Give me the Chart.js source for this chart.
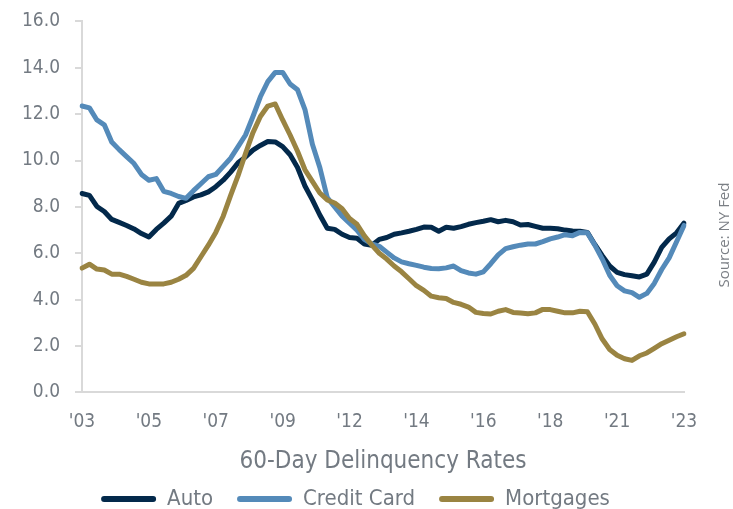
<!DOCTYPE html>
<html>
<head>
<meta charset="utf-8">
<script src="https://cdn.jsdelivr.net/npm/chart.js@4.4.1/dist/chart.umd.min.js"></script>
<style>
  html, body { margin: 0; padding: 0; background: #fff; overflow: hidden; }
  #wrap { position: relative; top: -5px; width: 733px; height: 525px; }
</style>
</head>
<body>
<div id="wrap"><canvas id="myChart"></canvas></div>
<script>
'use strict';

// quarterly, 2003Q1 .. 2023Q2
var quarters = [];
for (var yr = 2003; yr <= 2023; yr++) {
    for (var q = 1; q <= 4; q++) {
        if (yr === 2023 && q > 2) break;
        quarters.push(yr + 'Q' + q);
    }
}
var tickEvery = 9;

var auto = [8.58, 8.5, 8.02, 7.8, 7.46, 7.33, 7.2, 7.05, 6.85, 6.7,
    7.03, 7.3, 7.6, 8.15, 8.28, 8.43, 8.52, 8.65, 8.87, 9.15,
    9.5, 9.9, 10.15, 10.45, 10.65, 10.82, 10.8, 10.6, 10.25, 9.7,
    8.9, 8.3, 7.65, 7.08, 7.03, 6.82, 6.68, 6.65, 6.4, 6.35,
    6.6, 6.68, 6.82, 6.88, 6.95, 7.03, 7.13, 7.12, 6.95, 7.12,
    7.08, 7.15, 7.25, 7.32, 7.38, 7.45, 7.36, 7.42, 7.36, 7.22,
    7.24, 7.16, 7.08, 7.08, 7.06, 7.0, 6.96, 6.95, 6.9, 6.38,
    5.9, 5.45, 5.18, 5.08, 5.03, 4.98, 5.1, 5.62, 6.25, 6.62,
    6.88, 7.3];

var creditCard = [12.35, 12.27, 11.75, 11.54, 10.8, 10.47, 10.17, 9.87, 9.4, 9.15,
    9.22, 8.67, 8.58, 8.45, 8.37, 8.7, 9.0, 9.3, 9.4, 9.75,
    10.1, 10.6, 11.1, 11.9, 12.75, 13.4, 13.8, 13.8, 13.3, 13.05,
    12.2, 10.7, 9.7, 8.4, 8.0, 7.6, 7.3, 7.0, 6.6, 6.4,
    6.3, 6.05, 5.8, 5.63, 5.55, 5.48, 5.4, 5.34, 5.33, 5.37,
    5.45, 5.25, 5.15, 5.1, 5.2, 5.55, 5.93, 6.2, 6.28, 6.35,
    6.4, 6.4, 6.5, 6.62, 6.7, 6.8, 6.76, 6.9, 6.88, 6.35,
    5.75, 5.05, 4.6, 4.38, 4.3, 4.1, 4.27, 4.7, 5.3, 5.8,
    6.5, 7.2];

var mortgages = [5.36, 5.53, 5.32, 5.28, 5.1, 5.1, 5.0, 4.88, 4.75, 4.68,
    4.68, 4.68, 4.75, 4.88, 5.05, 5.35, 5.85, 6.35, 6.9, 7.6,
    8.5, 9.35, 10.3, 11.2, 11.9, 12.35, 12.44, 11.75, 11.1, 10.4,
    9.6, 9.1, 8.6, 8.3, 8.17, 7.92, 7.5, 7.25, 6.75, 6.35,
    6.0, 5.75, 5.45, 5.2, 4.9, 4.6, 4.4, 4.15, 4.08, 4.05,
    3.88, 3.8, 3.68, 3.45, 3.4, 3.38, 3.5, 3.57, 3.45, 3.42,
    3.39, 3.43, 3.58, 3.57, 3.5, 3.43, 3.43, 3.5, 3.48, 2.95,
    2.3, 1.85, 1.6, 1.45, 1.38, 1.58, 1.7, 1.9, 2.1, 2.25,
    2.4, 2.53];

var narrow = "'DejaVu Sans Condensed', 'DejaVu Sans', sans-serif";
var textGray = '#737a82';
var axisGray = '#d9d9d9';

const sourceNote = {
    id: 'sourceNote',
    afterDraw(chart) {
        const ctx = chart.ctx;
        ctx.save();
        ctx.translate(725, 240);
        ctx.rotate(-Math.PI / 2);
        ctx.font = "15px 'Open Sans', sans-serif";
        ctx.fillStyle = '#7b7f85';
        ctx.textAlign = 'center';
        ctx.textBaseline = 'middle';
        ctx.fillText('Source: NY Fed', 0, 0);
        ctx.restore();
    }
};

// later series sit on top (Excel style), order only drives drawing
function series(label, data, color, order) {
    return {
        label: label,
        data: data,
        borderColor: color,
        backgroundColor: color,
        borderWidth: 5,
        pointRadius: 0,
        tension: 0,
        borderJoinStyle: 'round',
        borderCapStyle: 'round',
        order: order
    };
}

const data = {
    labels: quarters,
    datasets: [
        series('Auto', auto, '#03294b', 3),
        series('Credit Card', creditCard, '#548ab9', 2),
        series('Mortgages', mortgages, '#9a8442', 1)
    ]
};

const options = {
    responsive: true,
    maintainAspectRatio: false,
    animation: false,
    layout: { padding: { top: 0, right: 22, left: 0, bottom: 0 } },
    plugins: {
        legend: {
            position: 'bottom',
            labels: {
                boxWidth: 55,
                boxHeight: 6,
                useBorderRadius: true,
                borderRadius: 3,
                padding: 24,
                color: textGray,
                font: { family: narrow, size: 22 },
                sort: function (a, b) { return a.datasetIndex - b.datasetIndex; },
                generateLabels(chart) {
                    const items = Chart.defaults.plugins.legend.labels.generateLabels(chart);
                    items.forEach(function (it) { it.lineWidth = 0; });
                    return items;
                }
            }
        },
        tooltip: { enabled: false }
    },
    scales: {
        x: {
            offset: false,
            grid: { display: false, drawTicks: false },
            border: { display: true, color: axisGray, width: 2 },
            ticks: {
                autoSkip: false,
                maxRotation: 0,
                padding: 18,
                color: textGray,
                font: { family: narrow, size: 19 },
                callback: function (val, i) {
                    if (i % tickEvery !== 0) return '';
                    return "'" + quarters[i].slice(2, 4);
                }
            },
            title: {
                display: true,
                text: '60-Day Delinquency Rates',
                color: textGray,
                font: { family: narrow, size: 24 },
                padding: { top: -4, bottom: -12 }
            }
        },
        y: {
            min: 0,
            max: 16,
            grid: { drawOnChartArea: false, drawTicks: true, tickLength: 7, color: axisGray, lineWidth: 2 },
            border: { display: true, color: axisGray, width: 2 },
            ticks: {
                stepSize: 2,
                padding: 15,
                color: textGray,
                font: { family: narrow, size: 19 },
                callback: function (v) { return v.toFixed(1); }
            },
            afterFit: function (scale) { scale.width = 82; }
        },
        // empty right-hand gutter, leaves room for the source note
        gutter: {
            type: 'linear',
            position: 'right',
            display: true,
            grid: { display: false, drawTicks: false },
            border: { display: false },
            ticks: { display: false },
            afterFit: function (scale) { scale.width = 27; }
        }
    }
};

const myChart = new Chart(document.getElementById('myChart'), {
    type: 'line',
    data: data,
    options: options,
    plugins: [sourceNote]
});
</script>
</body>
</html>
